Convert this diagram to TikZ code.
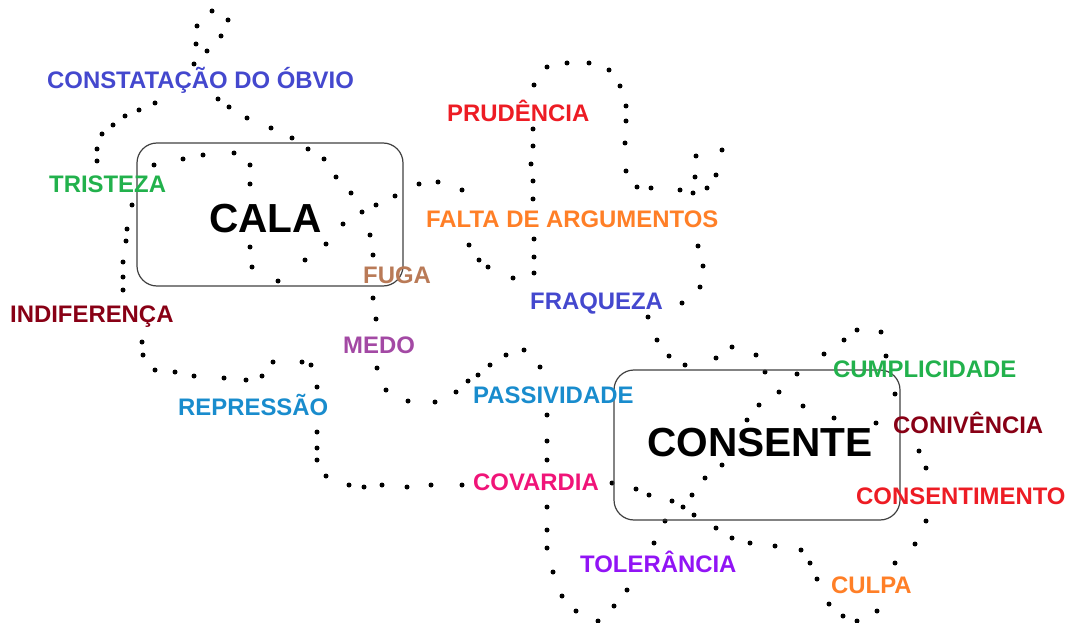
\documentclass[tikz,border=0pt]{standalone}
\usepackage{fontspec}
\setmainfont{Liberation Sans}

\definecolor{indigoblue}{RGB}{68,72,206}
\definecolor{brightred}{RGB}{237,28,36}
\definecolor{grassgreen}{RGB}{34,177,76}
\definecolor{carrot}{RGB}{255,127,39}
\definecolor{tan}{RGB}{185,122,87}
\definecolor{wine}{RGB}{136,0,21}
\definecolor{mauve}{RGB}{163,73,164}
\definecolor{skyblue}{RGB}{25,140,205}
\definecolor{hotpink}{RGB}{240,20,120}
\definecolor{grape}{RGB}{145,20,245}

\begin{document}
\begin{tikzpicture}[x=1pt, y=-1pt,
  term/.style={anchor=base west, inner sep=0pt, font=\fontsize{23.9}{28}\selectfont\bfseries},
  core/.style={anchor=base west, inner sep=0pt, font=\fontsize{40.6}{48}\selectfont\bfseries},
  box/.style={draw=black!75, line width=1.2pt, rounded corners=20pt, inner sep=0pt},
  spot/.style={fill=black}]
  \useasboundingbox (0,0) rectangle (1069,623);

  % dotted trails
  \foreach \p in {(212,11),(228,20),(197,26),(221,36),(196,44),(207,51),(194,64),
    (218,99),(229,107),(247,118),(271,128),(292,138),(308,149),(324,159),(336,177),
    (351,193),(362,212),(343,224),(326,244),(305,260),(278,281)}
    \fill[spot] \p circle[radius=2.5pt];
  \foreach \p in {(155,103),(139,110),(125,116),(113,125),(102,134),(97,149),(97,161),
    (132,205),(127,229),(126,241),(123,262),(123,277),(123,290),
    (142,342),(143,355),(155,370),(175,372),(194,376),(224,378),(246,380),(262,376),
    (273,362),(302,362),(311,365),(317,387),(317,432),(317,448),(317,460),(326,476),
    (349,485),(364,487),(382,485),(407,487),(431,485),(462,485)}
    \fill[spot] \p circle[radius=2.5pt];
  \foreach \p in {(154,165),(183,159),(203,155),(234,153),(250,165),(250,184),(250,247),(252,267)}
    \fill[spot] \p circle[radius=2.5pt];
  \foreach \p in {(395,196),(376,205),(370,235),(373,255),(373,298),(376,319),(377,368),
    (386,390),(408,401),(435,402),(456,392),(468,381),(478,375),(490,365),(506,355),
    (524,350),(540,367),(547,415),(547,441),(547,460),(547,507),(547,530),(547,548),
    (553,572),(562,596),(576,611),(598,621),(614,606),(627,590)}
    \fill[spot] \p circle[radius=2.5pt];
  \foreach \p in {(419,184),(438,182),(462,190),(469,245),(479,260),(488,267),(513,278),
    (534,273),(534,257),(534,239),(533,199),(533,181),(531,164),(533,146),(533,129),(534,85),
    (547,67),(567,63),(589,63),(609,70),(620,86),(626,106),(626,121),(625,143),(626,171),
    (637,187),(651,188),(680,190),(693,193),(707,188),(716,175),(722,150),(695,177),(696,156),
    (698,246),(703,266),(700,287),(682,303),(648,317),(657,340),(669,356),(685,365)}
    \fill[spot] \p circle[radius=2.5pt];
  \foreach \p in {(716,358),(732,347),(756,355),(765,372),(797,374),(779,392),(803,406),
    (759,405),(747,420),(722,465),(705,478),(692,495),(694,515),(683,507),(672,501),
    (649,495),(636,489),(612,483),(665,521),(654,543),(716,528),(732,538),(750,543),
    (775,546),(801,550),(810,563),(817,579),(829,604),(843,616),(857,621),(877,611),
    (895,563),(915,544),(926,521),(926,468),(919,451),(895,394),(886,356),(881,332),
    (857,330),(844,340),(824,354),(834,418),(876,423)}
    \fill[spot] \p circle[radius=2.5pt];

  % the two boxes
  \node[box, minimum width=266pt, minimum height=143pt] (calabox) at (270,214.5) {};
  \node[box, minimum width=286pt, minimum height=150pt] (consentebox) at (757,445) {};
  \node[core] (cala) at (209,233) {CALA};
  \node[core] (consente) at (647,456) {CONSENTE};

  % words
  \node[term, text=indigoblue] (obvio) at (47,89) {CONSTATAÇÃO DO ÓBVIO};
  \node[term, text=grassgreen] (tristeza) at (49,193) {TRISTEZA};
  \node[term, text=wine] (indiferenca) at (10,322) {INDIFERENÇA};
  \node[term, text=brightred] (prudencia) at (447,122) {PRUDÊNCIA};
  \node[term, text=carrot] (falta) at (426,227) {FALTA DE ARGUMENTOS};
  \node[term, text=tan] (fuga) at (363,283) {FUGA};
  \node[term, text=indigoblue] (fraqueza) at (530,309) {FRAQUEZA};
  \node[term, text=mauve] (medo) at (343,353) {MEDO};
  \node[term, text=skyblue] (repressao) at (178,415) {REPRESSÃO};
  \node[term, text=skyblue] (passividade) at (473,403) {PASSIVIDADE};
  \node[term, text=hotpink] (covardia) at (473,490) {COVARDIA};
  \node[term, text=grape] (tolerancia) at (580,572) {TOLERÂNCIA};
  \node[term, text=grassgreen] (cumplicidade) at (833,377) {CUMPLICIDADE};
  \node[term, text=wine] (conivencia) at (893,433) {CONIVÊNCIA};
  \node[term, text=brightred] (consentimento) at (856,504) {CONSENTIMENTO};
  \node[term, text=carrot] (culpa) at (831,593) {CULPA};
\end{tikzpicture}
\end{document}
